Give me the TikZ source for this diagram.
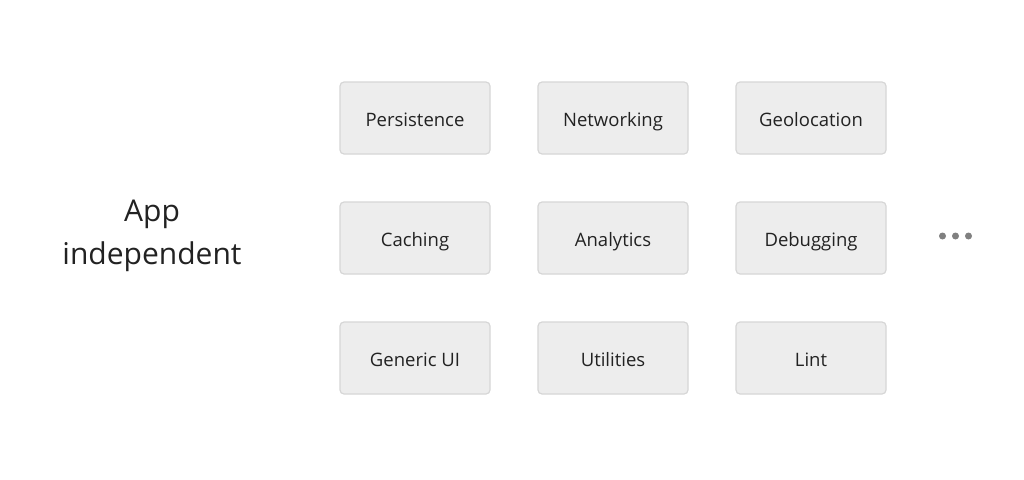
\documentclass[tikz,border=0pt]{standalone}
\usepackage{fontspec}
\setmainfont{Open Sans}
\definecolor{boxfill}{HTML}{EDEDED}
\definecolor{boxline}{HTML}{D6D6D6}
\definecolor{ink}{HTML}{222222}
\definecolor{dotgray}{HTML}{808080}
\begin{document}
\begin{tikzpicture}
[x=1pt,y=-1pt,
module/.style={rectangle,rounded corners=4pt,fill=boxfill,draw=boxline,line width=1.2pt,minimum width=150pt,minimum height=72pt,text=ink,text height=20pt,text depth=3pt,font=\fontsize{18.5}{22}\selectfont},
more/.style={circle,fill=dotgray,inner sep=0pt,minimum size=7pt}]
\useasboundingbox (0,0) rectangle (1024,479);
\node[text=ink,align=center,font=\fontsize{30}{43}\selectfont] (app) at (152,236) {App\\independent};
\node[module] (persist) at (415,118) {Persistence};
\node[module] (network) at (613,118) {Networking};
\node[module] (geo) at (811,118) {Geolocation};
\node[module] (cache) at (415,238) {Caching};
\node[module] (analytics) at (613,238) {Analytics};
\node[module] (debug) at (811,238) {Debugging};
\node[module] (genui) at (415,358) {Generic UI};
\node[module] (utils) at (613,358) {Utilities};
\node[module] (lint) at (811,358) {Lint};
\node[more] (dot1) at (942.5,236) {};
\node[more] (dot2) at (955.5,236) {};
\node[more] (dot3) at (968.5,236) {};
\end{tikzpicture}
\end{document}
